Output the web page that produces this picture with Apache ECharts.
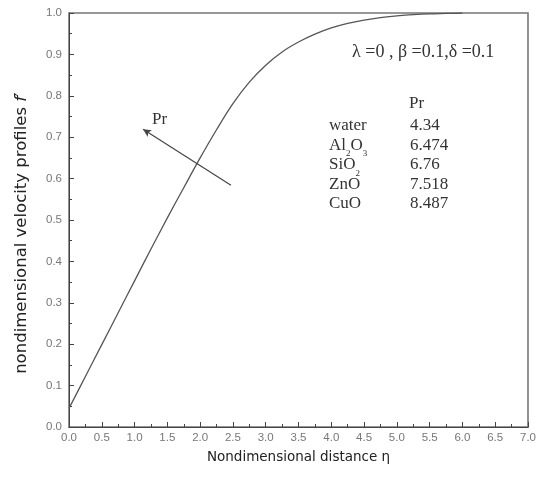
<!DOCTYPE html>
<html><head><meta charset="utf-8">
<script src="https://cdn.jsdelivr.net/npm/echarts@6/dist/echarts.min.js"></script>
<style>html,body{margin:0;padding:0;background:#fff}#c{width:545px;height:477px}</style>
</head><body><div id="c"></div>
<script>
var eta = [0,0.25,0.5,0.75,1.0,1.25,1.5,1.75,2.0,2.25,2.5,2.75,3.0,3.25,3.5,3.75,4.0,4.25,4.5,4.75,5.0,5.25,5.5,5.75,6.0];
var fprime = [0.045,0.122,0.199,0.276,0.353,0.43,0.505,0.578,0.65,0.718,0.781,0.833,0.874,0.906,0.93,0.949,0.964,0.975,0.983,0.989,0.993,0.996,0.998,0.999,1.0];
var arrowFrom = [2.47, 0.584];
var arrowTo = [1.13, 0.719];
var fluids = ['water','Al{s|2}O{s|3}','SiO{s|2}','ZnO','CuO'];
var prValues = ['4.34','6.474','6.76','7.518','8.487'];
var paramText = 'λ =0 , β =0.1,δ =0.1';

var chart = echarts.init(document.getElementById('c'), null, {renderer:'canvas'});
var serif = 'Liberation Serif';
var tcol = '#333';
var fs = 17;
var graphics = [
  {type:'text', left:352, top:43, style:{text:paramText, fontFamily:serif, fontSize:18, fill:tcol}},
  {type:'text', left:409, top:95, style:{text:'Pr', fontFamily:serif, fontSize:fs, fill:tcol}},
  {type:'text', left:152, top:111, style:{text:'Pr', fontFamily:serif, fontSize:fs, fill:tcol}}
];
var rowTop = 117, rowStep = 19.6;
for (var i=0;i<fluids.length;i++){
  graphics.push({type:'text', left:329, top:rowTop+i*rowStep, style:{
    text:fluids[i], fontFamily:serif, fontSize:fs, fill:tcol,
    rich:{s:{fontFamily:serif, fontSize:9, fill:tcol, verticalAlign:'bottom', lineHeight:26}}
  }});
  graphics.push({type:'text', left:410, top:rowTop+i*rowStep, style:{text:prValues[i], fontFamily:serif, fontSize:fs, fill:tcol}});
}
var axisLineStyle = {color:'#444', width:1};
chart.setOption({
  animation:false,
  grid:{left:69, right:17, top:13, bottom:50, show:true, borderColor:'#777', borderWidth:1.6},
  xAxis:{type:'value', min:0, max:7, interval:0.5,
    name:'Nondimensional distance η', nameLocation:'middle', nameGap:23,
    nameTextStyle:{fontFamily:'DejaVu Sans', fontSize:13.5, color:'#222'},
    axisLine:{show:true, lineStyle:axisLineStyle},
    axisTick:{show:true, inside:true, length:5, lineStyle:axisLineStyle},
    minorTick:{show:true, splitNumber:2, length:3, lineStyle:axisLineStyle},
    splitLine:{show:false},
    axisLabel:{fontFamily:'Liberation Sans', fontSize:11.5, color:'#777', margin:5,
      formatter:function(v){return v.toFixed(1);}}
  },
  yAxis:{type:'value', min:0, max:1, interval:0.1,
    name:'nondimensional velocity profiles {i|f}′', nameLocation:'middle', nameGap:39,
    nameTextStyle:{fontFamily:'DejaVu Sans', fontSize:16.5, color:'#222', padding:[0,26,0,0],
      rich:{i:{fontFamily:'DejaVu Sans', fontStyle:'italic', fontSize:16.5, color:'#222'}}},
    axisLine:{show:true, lineStyle:axisLineStyle},
    axisTick:{show:true, inside:true, length:5, lineStyle:axisLineStyle},
    minorTick:{show:true, splitNumber:2, length:3, lineStyle:axisLineStyle},
    splitLine:{show:false},
    axisLabel:{fontFamily:'Liberation Sans', fontSize:11.5, color:'#777', margin:7,
      formatter:function(v){return v.toFixed(1);}}
  },
  series:[{
    type:'line', smooth:0.4, showSymbol:false,
    data:eta.map(function(x,i){return [x,fprime[i]];}),
    lineStyle:{color:'#555', width:1.3},
    markLine:{silent:true, symbol:['none','arrow'], symbolSize:[6,8],
      label:{show:false},
      lineStyle:{color:'#444', width:1.2, type:'solid'},
      data:[[{coord:arrowFrom},{coord:arrowTo}]]}
  }],
  graphic:graphics
});
</script></body></html>
